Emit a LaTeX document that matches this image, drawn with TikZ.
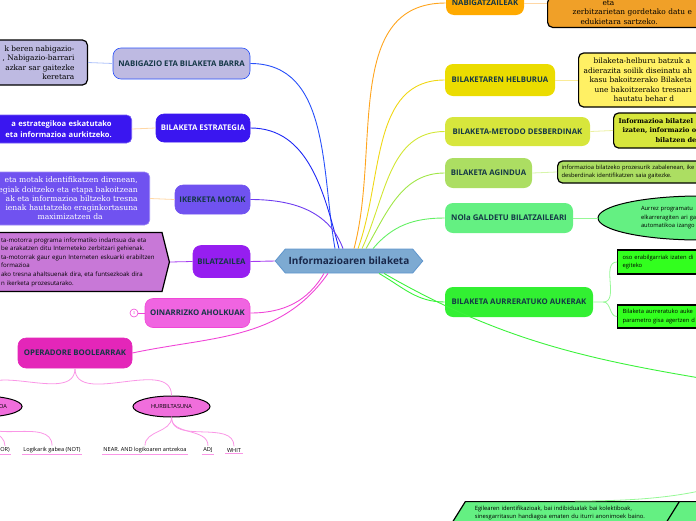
\documentclass[tikz,border=0pt]{standalone}
\usepackage{fontspec}
\setmainfont{DejaVu Serif}
\setsansfont{Open Sans}
\usetikzlibrary{shapes.symbols}
\usetikzlibrary{shapes.geometric}
\definecolor{centrefill}{RGB}{125,170,210}
\definecolor{centreline}{RGB}{95,150,205}
\definecolor{centretext}{RGB}{25,40,75}
\definecolor{headtext}{RGB}{20,55,70}
\definecolor{navfill}{RGB}{190,186,226}
\definecolor{navline}{RGB}{40,80,250}
\definecolor{navpale}{RGB}{175,195,250}
\definecolor{estfill}{RGB}{58,22,240}
\definecolor{estline}{RGB}{30,40,245}
\definecolor{ikerfill}{RGB}{112,82,240}
\definecolor{ikerline}{RGB}{110,60,240}
\definecolor{bilatfill}{RGB}{150,30,240}
\definecolor{bilatline}{RGB}{165,60,240}
\definecolor{bilatpale}{RGB}{200,120,215}
\definecolor{oinarfill}{RGB}{240,100,225}
\definecolor{operfill}{RGB}{228,38,185}
\definecolor{hurbilfill}{RGB}{240,110,220}
\definecolor{pinkline}{RGB}{240,70,215}
\definecolor{palepink}{RGB}{250,150,230}
\definecolor{peach}{RGB}{255,215,165}
\definecolor{nabigfill}{RGB}{255,170,0}
\definecolor{nabigline}{RGB}{255,165,30}
\definecolor{nabigpale}{RGB}{240,160,40}
\definecolor{helbfill}{RGB}{235,220,0}
\definecolor{helbline}{RGB}{240,215,20}
\definecolor{helbpale}{RGB}{255,240,100}
\definecolor{helbsub}{RGB}{250,235,150}
\definecolor{metofill}{RGB}{215,230,60}
\definecolor{metoline}{RGB}{210,230,50}
\definecolor{metosub}{RGB}{235,240,160}
\definecolor{agindfill}{RGB}{172,222,98}
\definecolor{agindline}{RGB}{160,230,70}
\definecolor{agindsub}{RGB}{215,245,170}
\definecolor{nolafill}{RGB}{100,240,130}
\definecolor{nolaline}{RGB}{100,240,100}
\definecolor{greensub}{RGB}{150,248,150}
\definecolor{aurrefill}{RGB}{50,240,50}
\definecolor{aurreline}{RGB}{60,242,60}
\definecolor{aurrepale}{RGB}{50,255,30}
\newcommand{\headfont}{\sffamily\bfseries\fontsize{7.8}{9}\selectfont}
\newcommand{\notefont}{\fontsize{7.4}{9.5}\selectfont}
\newcommand{\smallfont}{\sffamily\fontsize{5.8}{8.5}\selectfont}
\newcommand{\leaffont}{\sffamily\fontsize{5.6}{6.5}\selectfont}
\tikzset{
    topic/.style={rounded corners=8pt, font=\headfont, text=headtext, inner sep=2pt, line width=0.6pt},
    centre/.style={signal, signal to=west and east, signal pointer angle=100, fill=centrefill, draw=centreline, line width=0.8pt,
        font=\sffamily\bfseries\fontsize{10}{12}\selectfont, text=centretext, minimum width=144, minimum height=24},
    note/.style={draw=black, line width=1.2pt, rounded corners=5pt, font=\notefont, inner ysep=3pt},
    smallnote/.style={note, font=\smallfont, align=left},
    boxnote/.style={smallnote, rounded corners=0pt},
    oval/.style={ellipse, draw=black, line width=1pt, font=\leaffont},
    slanted/.style={trapezium, trapezium left angle=58, trapezium right angle=122, draw=black, line width=1.2pt,
        fill=nolafill, font=\smallfont, align=left, anchor=top left corner, minimum height=23},
    leaf/.style={font=\leaffont, inner sep=1.5pt,
        append after command={(\tikzlastnode.south west) edge[draw=palepink, line width=0.8pt] (\tikzlastnode.south east)}},
    link/.style={line width=0.9pt},
    sublink/.style={line width=0.8pt}
}
\begin{document}
\begin{tikzpicture}[x=1pt, y=-1pt]
    \useasboundingbox (0,0) rectangle (696,520);
    \clip (0,0) rectangle (696,520);

    % centre
    \node[centre] (info) at (349,261) {Informazioaren bilaketa};

    % left side
    \node[topic, fill=navfill, draw=navline, minimum width=137, minimum height=31] (nav) at (181.5,63.5) {NABIGAZIO ETA BILAKETA BARRA};
    \node[topic, fill=estfill, draw=estfill, text=white, minimum width=94, minimum height=28] (est) at (203,128) {BILAKETA ESTRATEGIA};
    \node[topic, fill=ikerfill, draw=ikerfill, minimum width=75, minimum height=29] (iker) at (212.5,199.5) {IKERKETA MOTAK};
    \node[topic, fill=bilatfill, draw=bilatfill, minimum width=57, minimum height=32] (bilat) at (221.5,261.5) {BILATZAILEA};
    \node[topic, fill=oinarfill, draw=pinkline, minimum width=105, minimum height=29] (oinar) at (197.5,313) {OINARRIZKO AHOLKUAK};
    \node[circle, draw=pinkline, line width=0.6pt, minimum size=8, inner sep=0pt, text=pinkline,
        font=\sffamily\fontsize{4}{4}\selectfont] (three) at (134,313) {3};
    \node[topic, fill=operfill, draw=operfill, minimum width=114, minimum height=30] (oper) at (75,353) {OPERADORE BOOLEARRAK};

    \node[note, fill=navfill, anchor=east, text width=100, inner xsep=13, align=right, minimum height=45] (navnote) at (88,62.5)
        {k beren nabigazio-\hspace*{4pt}\\, Nabigazio-barrari\\azkar sar gaitezke\hspace*{3pt}\\keretara\hspace*{42pt}};
    \node[note, fill=estfill, draw=estfill!70!white, line width=0.6pt, text=white, font=\sffamily\bfseries\fontsize{7.6}{11}\selectfont,
        anchor=east, text width=110, inner xsep=20, align=right, minimum height=28] (estnote) at (132,129)
        {a estrategikoa eskatutako\hspace*{9pt}\\eta informazioa aurkitzeko.};
    \node[note, fill=ikerfill, draw=ikerfill!70!white, line width=0.6pt, text=white, font=\fontsize{7.6}{9.3}\selectfont,
        anchor=east, text width=150, inner xsep=12, align=right, minimum height=53] (ikernote) at (150,198.5)
        {eta motak identifikatzen direnean,\\egiak doitzeko eta etapa bakoitzean\\ak eta informazioa biltzeko tresna\hspace*{4pt}\\ienak hautatzeko eraginkortasuna\hspace*{4pt}\\maximizatzen da\hspace*{35pt}};
    \node[signal, signal to=east, signal pointer angle=152, draw=black, line width=1.2pt, fill=bilatpale,
        font=\sffamily\fontsize{6.1}{8.6}\selectfont,
        align=left, text width=157, inner xsep=4, minimum height=59, anchor=east] (bilatnote) at (170,262)
        {ta-motorra programa informatiko indartsua da eta\\be arakatzen ditu Interneteko zerbitzari gehienak.\\ta-motorrak gaur egun Interneten eskuarki erabiltzen\\formazioa\\ako tresna ahaltsuenak dira, eta funtsezkoak dira\\n ikerketa prozesutarako.};

    \node[oval, fill=hurbilfill, minimum width=77, minimum height=21] (hurbil) at (171.5,406.5) {HURBILTASUNA};
    \node[oval, fill=hurbilfill, minimum width=78, minimum height=21, text width=50, align=right] (eragile) at (-18,406.5) {OA};
    \node[leaf] (orr) at (5,450) {OR)};
    \node[leaf] (notleaf) at (52,450) {Logikarik gabea (NOT)};
    \node[leaf] (near) at (145,450) {NEAR. AND logikoaren antzekoa};
    \node[leaf] (adj) at (208,450) {ADJ};
    \node[leaf] (whit) at (234,450) {WHIT};

    % right side
    \node[topic, fill=nabigfill, minimum width=78, minimum height=24] (nabig) at (485,3) {NABIGATZAILEAK};
    \node[topic, fill=helbfill, minimum width=110, minimum height=32] (helb) at (500,80) {BILAKETAREN HELBURUA};
    \node[topic, fill=metofill, minimum width=145, minimum height=29] (meto) at (517.5,131.5) {BILAKETA-METODO DESBERDINAK};
    \node[topic, fill=agindfill, minimum width=87, minimum height=30] (agind) at (488.5,173) {BILAKETA AGINDUA};
    \node[topic, fill=nolafill, minimum width=128, minimum height=30] (nola) at (509,218) {NOla GALDETU BILATZAILEARI};
    \node[topic, fill=aurrefill, minimum width=148, minimum height=30] (aurre) at (519,302) {BILAKETA AURRERATUKO AUKERAK};
    \coordinate (hidden) at (800,395);

    \node[note, fill=nabigpale, anchor=south west, align=left, text width=200, inner xsep=25] (nabignote) at (547,28)
        {\hspace*{30pt}eta\\zerbitzarietan gordetako datu e\\\hspace*{8pt}edukietara sartzeko.};
    \node[note, fill=helbpale, anchor=west, align=left, text width=150, inner xsep=5, minimum height=54] (helbnote) at (578,80)
        {\hspace*{10pt}bilaketa-helburu batzuk a\\adierazita soilik diseinatu ah\\\hspace*{6pt}kasu bakoitzerako Bilaketa\\\hspace*{11pt}une bakoitzerako tresnari\\\hspace*{30pt}hautatu behar d};
    \node[note, fill=metofill, font=\fontsize{6.6}{9.5}\selectfont\bfseries, anchor=west, align=left, text width=120, inner xsep=5, minimum height=35] (metonote) at (613,130.5)
        {Informazioa bilatzel\\\hspace*{4pt}izaten, informazio o\\\hspace*{37pt}bilatzen de};
    \node[smallnote, fill=agindfill, anchor=west, text width=160, inner xsep=4, minimum height=22, font=\sffamily\fontsize{5.8}{8}\selectfont] (agindnote) at (557,172)
        {informazioa bilatzeko prozesurik zabalenean, ike\\desberdinak identifikatzen saia gaitezke.};
    \node[oval, fill=nolafill, font=\smallfont, align=left, text width=118, minimum width=204, minimum height=44] (nolanote) at (700,218)
        {Aurrez programatu\\elkarreragiten ari ga\\automatikoa izango};
    \node[boxnote, fill=aurrepale, anchor=west, text width=100, inner xsep=5, minimum height=24] (aurreone) at (617,262)
        {oso erabilgarriak izaten di\\egiteko};
    \node[boxnote, fill=aurrepale, anchor=west, text width=100, inner xsep=5, minimum height=23] (aurretwo) at (617,316.5)
        {Bilaketa aurreratuko auke\\parametro gisa agertzen d};
    \node[slanted, text width=200, inner xsep=0pt] (egile) at (465,501)
        {Egilearen identifikazioak, bai indibidualak bai kolektiboak,\\sinesgarritasun handiagoa ematen du iturri anonimoek baino.};
    \node[slanted, minimum width=150] (egiletwo) at (679,501) {};

    % links from the centre
    \draw[link, navline] ([xshift=-14pt]info.north) to[out=100, in=0] (nav.east);
    \draw[link, estline] ([xshift=-10pt]info.north) to[out=105, in=0] (est.east);
    \draw[link, ikerline] ([xshift=-6pt]info.north) to[out=110, in=0] (iker.east);
    \draw[link, bilatline] (info.west) -- (bilat.east);
    \draw[link, pinkline] ([xshift=-25pt]info.south) to[out=-120, in=0] (oinar.east);
    \draw[link, pinkline] ([xshift=-21pt]info.south) to[out=-125, in=12] (oper.east);
    \draw[link, nabigline] ([xshift=5pt]info.north) to[out=75, in=180] (nabig.west);
    \draw[link, helbline] ([xshift=9pt]info.north) to[out=70, in=180] (helb.west);
    \draw[link, metoline] ([xshift=13pt]info.north) to[out=65, in=180] (meto.west);
    \draw[link, agindline] ([xshift=17pt]info.north) to[out=60, in=180] (agind.west);
    \draw[link, nolaline] ([xshift=24pt]info.north) to[out=50, in=180] (nola.west);
    \draw[link, aurreline] ([xshift=30pt]info.south) to[out=-30, in=180] (aurre.west);
    \draw[link, aurreline] ([xshift=35pt]info.south) to[out=-30, in=170] (hidden);

    % links to the notes
    \draw[sublink, navpale] (nav.west) -- (navnote.east);
    \draw[sublink, peach] (est.west) -- (estnote.east);
    \draw[sublink, peach] (iker.west) -- (ikernote.east);
    \draw[sublink, bilatline] (bilat.west) -- (bilatnote.east);
    \draw[sublink, pinkline] (three.east) -- (oinar.west);
    \draw[sublink, palepink] (oper.south) to[out=-90, in=90] (hurbil.north);
    \draw[sublink, palepink] (oper.south) to[out=-90, in=90] (eragile.north);
    \draw[sublink, palepink] (eragile.south) to[out=-90, in=90] (orr.north);
    \draw[sublink, palepink] (eragile.south) to[out=-90, in=90] (notleaf.north);
    \draw[sublink, palepink] (hurbil.south) to[out=-90, in=90] (near.north);
    \draw[sublink, palepink] (hurbil.south) to[out=-90, in=90] (adj.north);
    \draw[sublink, palepink] (hurbil.south) to[out=-90, in=90] (whit.north);
    \draw[sublink, peach] (nabig.east) -- (nabig.east -| nabignote.west);
    \draw[sublink, helbsub] (helb.east) -- (helbnote.west);
    \draw[sublink, metosub] (meto.east) -- (metonote.west);
    \draw[sublink, agindsub] (agind.east) -- (agindnote.west);
    \draw[sublink, greensub] (nola.east) -- (nolanote.west);
    \coordinate (aurrefork) at ([xshift=10pt]aurre.east);
    \draw[sublink, greensub] (aurre.east) -- (aurrefork) to[out=0, in=180] (aurreone.west);
    \draw[sublink, greensub] (aurrefork) to[out=0, in=180] (aurretwo.west);
    \draw[sublink, greensub] (hidden) to[out=-90, in=0] (egile.north);
\end{tikzpicture}
\end{document}
